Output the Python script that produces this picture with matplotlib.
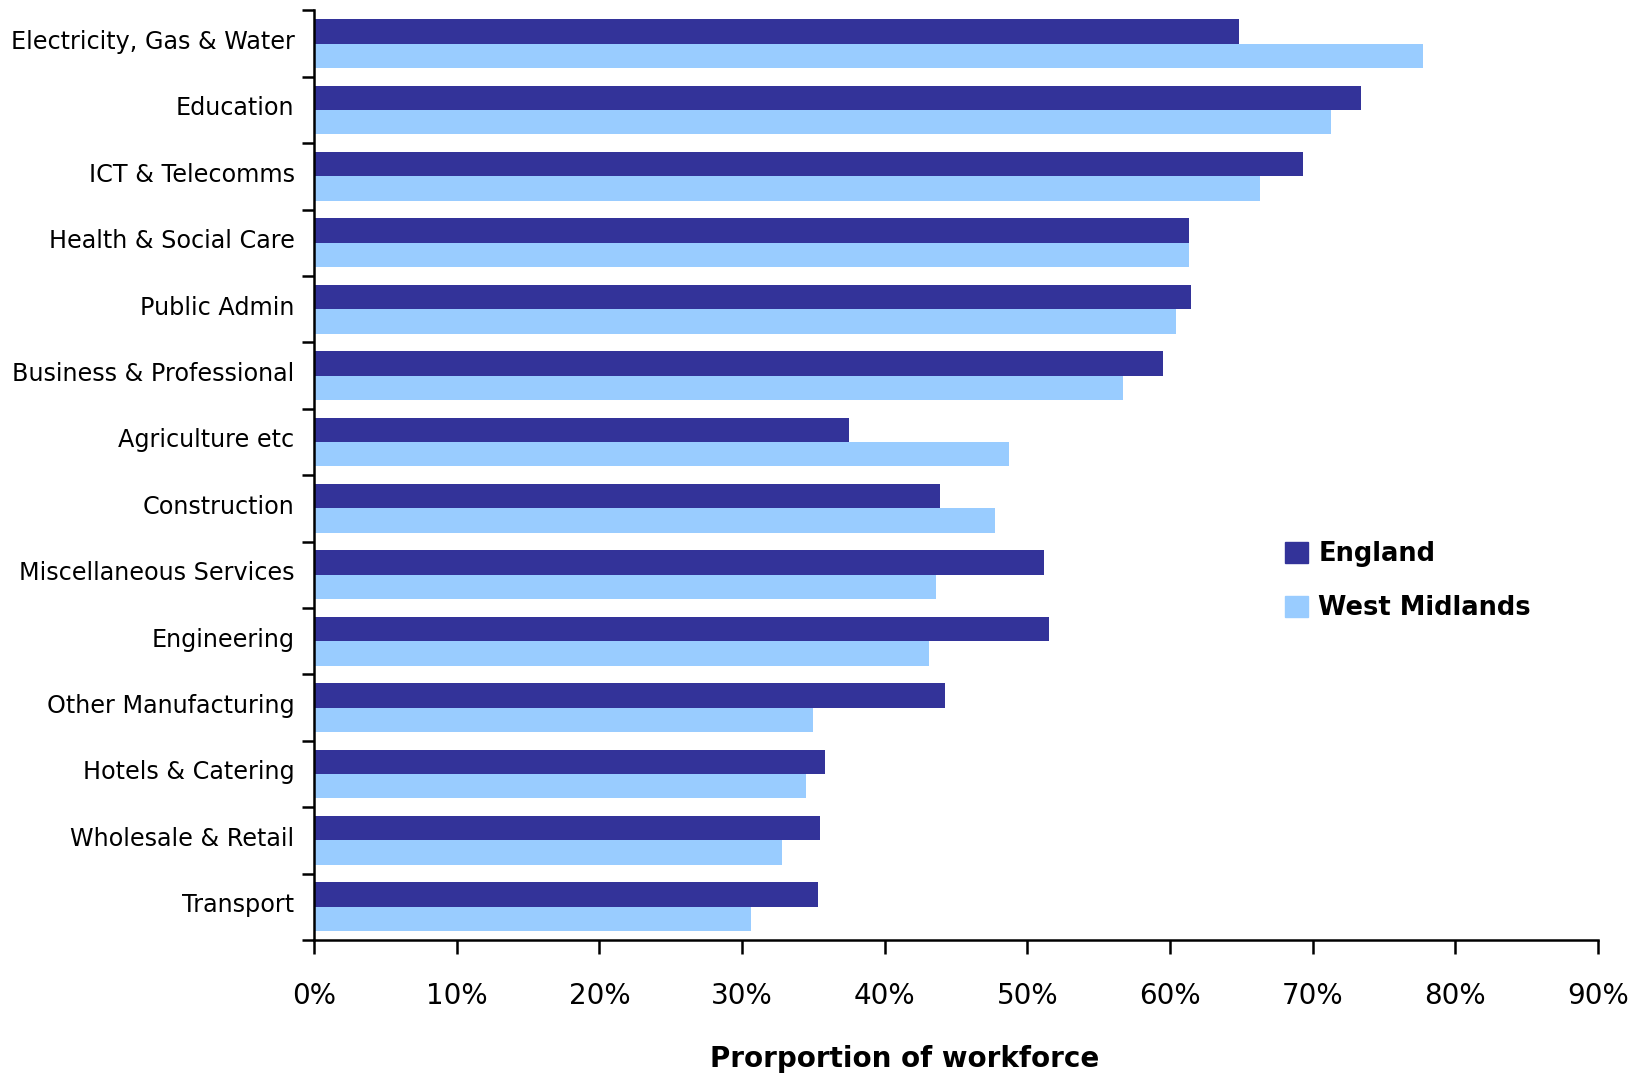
import numpy as np
import matplotlib.pyplot as plt
import matplotlib.transforms as mtransforms
from matplotlib.patches import Patch
from matplotlib.ticker import FixedLocator, PercentFormatter

sectors = ["Electricity, Gas & Water", "Education", "ICT & Telecomms",
           "Health & Social Care", "Public Admin", "Business & Professional",
           "Agriculture etc", "Construction", "Miscellaneous Services",
           "Engineering", "Other Manufacturing", "Hotels & Catering",
           "Wholesale & Retail", "Transport"]
england = [64.8, 73.4, 69.3, 61.3, 61.5, 59.5, 37.5, 43.9, 51.2, 51.5, 44.2, 35.8, 35.5, 35.3]
west_mid = [77.7, 71.3, 66.3, 61.3, 60.4, 56.7, 48.7, 47.7, 43.6, 43.1, 35.0, 34.5, 32.8, 30.6]

c_eng = "#333399"
c_wm = "#99ccff"

fig = plt.figure(figsize=(16.32, 10.77), dpi=100)
ax = fig.add_axes([0.1924, 0.1272, 0.9792 - 0.1924, 0.9903 - 0.1272])

y = np.arange(len(sectors))
h = 0.367
ax.barh(y - h / 2, england, height=h, color=c_eng)
ax.barh(y + h / 2, west_mid, height=h, color=c_wm)

ax.set_xlim(0, 90)
ax.set_ylim(len(sectors) - 0.5, -0.5)

ax.set_yticks(y)
ax.set_yticklabels(sectors, fontsize=17.2, family="DejaVu Sans")
ax.yaxis.set_minor_locator(FixedLocator(np.arange(-0.5, len(sectors), 1)))
ax.tick_params(axis="y", which="major", length=0, pad=14)
ax.tick_params(axis="y", which="minor", length=9, width=1.8, direction="out")
# labels sit a touch above the band centre in the original
shift = mtransforms.ScaledTranslation(0, 3 / 72, fig.dpi_scale_trans)
for lab in ax.get_yticklabels():
    lab.set_transform(lab.get_transform() + shift)

ax.set_xticks(np.arange(0, 91, 10))
ax.xaxis.set_major_formatter(PercentFormatter(decimals=0))
ax.tick_params(axis="x", length=10, width=1.8, direction="out", pad=20, labelsize=20)

ax.set_xlabel("Prorportion of workforce", fontsize=20, fontweight="bold")
ax.xaxis.set_label_coords(0.46, -0.113)

for s in ["top", "right"]:
    ax.spines[s].set_visible(False)
ax.spines["left"].set_linewidth(1.8)
ax.spines["bottom"].set_linewidth(1.8)

handles = [Patch(color=c_eng, label="England"), Patch(color=c_wm, label="West Midlands")]
ax.legend(handles=handles, loc="center left", bbox_to_anchor=(0.738, 0.386),
          frameon=False, prop={"size": 18.5, "weight": "bold"},
          handlelength=0.9, handleheight=0.9, handletextpad=0.4, labelspacing=1.1)

fig.savefig("out.png", dpi=100)
